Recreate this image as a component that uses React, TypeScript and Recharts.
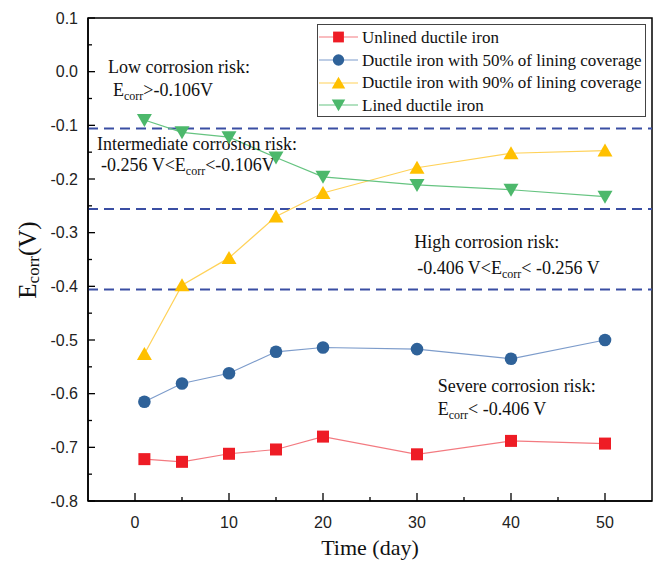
import React from 'react';
import { LineChart, Line, XAxis, YAxis, ReferenceLine, ReferenceArea, ReferenceDot, Legend } from 'recharts';

const times = [1, 5, 10, 15, 20, 30, 40, 50];
const unlined = [-0.722, -0.727, -0.712, -0.704, -0.68, -0.713, -0.688, -0.693];
const cov50 = [-0.615, -0.581, -0.562, -0.522, -0.514, -0.517, -0.535, -0.5];
const cov90 = [-0.526, -0.398, -0.347, -0.27, -0.226, -0.179, -0.152, -0.147];
const lined = [-0.09, -0.113, -0.122, -0.16, -0.196, -0.211, -0.22, -0.233];

const seriesNames = [
  'Unlined ductile iron',
  'Ductile iron with 50% of lining coverage',
  'Ductile iron with 90% of lining coverage',
  'Lined ductile iron',
];
const xTicks = [0, 5, 10, 15, 20, 25, 30, 35, 40, 45, 50];
const xLabelTicks = [0, 10, 20, 30, 40, 50];
const yTicks = [-0.8, -0.75, -0.7, -0.65, -0.6, -0.55, -0.5, -0.45, -0.4, -0.35, -0.3, -0.25, -0.2, -0.15, -0.1, -0.05, 0, 0.05, 0.1];
const yLabelTicks = [-0.8, -0.7, -0.6, -0.5, -0.4, -0.3, -0.2, -0.1, 0, 0.1];
const thresholds = [-0.106, -0.256, -0.406];

const data = times.map((t, i) => ({
  time: t,
  unlined: unlined[i],
  cov50: cov50[i],
  cov90: cov90[i],
  lined: lined[i],
}));

const SERIF = '"Liberation Serif", "Times New Roman", serif';
const SANS = '"Liberation Sans", Arial, sans-serif';

const styles = [
  { key: 'unlined', marker: 'square', fill: '#ee1c25', line: '#f37a80' },
  { key: 'cov50', marker: 'circle', fill: '#2f6299', line: '#7d9ccb' },
  { key: 'cov90', marker: 'up', fill: '#ffc000', line: '#ffd259' },
  { key: 'lined', marker: 'down', fill: '#4cb86b', line: '#66c481' },
];

function Marker({ type, cx, cy, fill }: any) {
  if (type === 'square') return <rect x={cx - 6} y={cy - 6} width={12} height={12} fill={fill} />;
  if (type === 'circle') return <circle cx={cx} cy={cy} r={6.3} fill={fill} />;
  if (type === 'up')
    return <polygon points={`${cx},${cy - 7} ${cx - 7.5},${cy + 6} ${cx + 7.5},${cy + 6}`} fill={fill} />;
  return <polygon points={`${cx},${cy + 7} ${cx - 7.5},${cy - 6} ${cx + 7.5},${cy - 6}`} fill={fill} />;
}

const makeDot = (type: string, fill: string) => (props: any) => {
  const { cx, cy, index } = props;
  if (cx == null || cy == null) return <g key={index} />;
  return <g key={index}><Marker type={type} cx={cx} cy={cy} fill={fill} /></g>;
};

const Y_MARGIN = 10;
const X_MARGIN = 12;

const YTick = (props: any) => {
  const { x, y, payload } = props;
  const v = payload.value;
  const major = yLabelTicks.some((t) => Math.abs(t - v) < 1e-9);
  const ax = x + Y_MARGIN;
  return (
    <g>
      <line x1={ax} x2={ax + (major ? 7 : 4)} y1={y} y2={y} stroke="#000" strokeWidth={1.3} />
      {major && (
        <text x={x} y={y} dy="0.36em" textAnchor="end" fontFamily={SANS} fontSize={16} fill="#222">
          {v.toFixed(1)}
        </text>
      )}
    </g>
  );
};

const XTick = (props: any) => {
  const { x, y, payload } = props;
  const v = payload.value;
  const major = xLabelTicks.includes(v);
  const ay = y - X_MARGIN;
  return (
    <g>
      <line x1={x} x2={x} y1={ay} y2={ay - (major ? 8 : 4)} stroke="#000" strokeWidth={1.3} />
      {major && (
        <text x={x} y={y} dy="0.95em" textAnchor="middle" fontFamily={SANS} fontSize={16} fill="#222">
          {String(v)}
        </text>
      )}
    </g>
  );
};

type Seg = { t: string; sub?: boolean };

const annotations: { x: number; y: number; lines: { dx: number; dy: number; segs: Seg[] }[] }[] = [
  {
    x: -2.87,
    y: -0.0025,
    lines: [
      { dx: 0, dy: 0, segs: [{ t: 'Low corrosion risk:' }] },
      { dx: 5, dy: 23, segs: [{ t: 'E' }, { t: 'corr', sub: true }, { t: '>-0.106V' }] },
    ],
  },
  {
    x: -4.04,
    y: -0.146,
    lines: [
      { dx: 0, dy: 0, segs: [{ t: 'Intermediate corrosion risk:' }] },
      { dx: 4, dy: 21, segs: [{ t: '-0.256 V<E' }, { t: 'corr', sub: true }, { t: '<-0.106V' }] },
    ],
  },
  {
    x: 29.7,
    y: -0.3285,
    lines: [
      { dx: 0, dy: 0, segs: [{ t: 'High corrosion risk:' }] },
      { dx: 3, dy: 26, segs: [{ t: '-0.406 V<E' }, { t: 'corr', sub: true }, { t: '< -0.256 V' }] },
    ],
  },
  {
    x: 32.2,
    y: -0.597,
    lines: [
      { dx: 0, dy: 0, segs: [{ t: 'Severe corrosion risk:' }] },
      { dx: 0, dy: 23, segs: [{ t: 'E' }, { t: 'corr', sub: true }, { t: '< -0.406 V' }] },
    ],
  },
];

function renderSegs(segs: Seg[], size: number, subSize: number, shift: number) {
  const out: any[] = [];
  let down = false;
  segs.forEach((s, i) => {
    if (s.sub) {
      out.push(
        <tspan key={i} fontSize={subSize} dy={shift}>
          {s.t}
        </tspan>
      );
      down = true;
    } else {
      out.push(
        <tspan key={i} fontSize={size} dy={down ? -shift : 0}>
          {s.t}
        </tspan>
      );
      down = false;
    }
  });
  return out;
}

const annContent = (lines: { dx: number; dy: number; segs: Seg[] }[]) => (props: any) => {
  const vb = props.viewBox || {};
  const x0 = vb.x + (vb.width || 0) / 2;
  const y0 = vb.y + (vb.height || 0) / 2;
  return (
    <g>
      {lines.map((ln, i) => (
        <text key={i} x={x0 + ln.dx} y={y0 + ln.dy} fontFamily={SERIF} fontSize={18} fill="#111">
          {renderSegs(ln.segs, 18, 12, 4)}
        </text>
      ))}
    </g>
  );
};

const renderLegend = () => (
  <div
    style={{
      border: '1px solid #444',
      background: '#fff',
      width: 329,
      height: 93,
      boxSizing: 'border-box',
      paddingTop: 1,
      fontFamily: SERIF,
      fontSize: 17,
      color: '#111',
      lineHeight: 1,
    }}
  >
    {styles.map((s, i) => (
      <div key={s.key} style={{ display: 'flex', alignItems: 'center', height: 22.7, whiteSpace: 'nowrap' }}>
        <svg width={44} height={22} style={{ display: 'block', flex: 'none' }}>
          <line x1={1} x2={40} y1={11} y2={11} stroke={s.line} strokeWidth={1.2} />
          <g transform="translate(20.5,11) scale(0.9) translate(-20.5,-11)">
            <Marker type={s.marker} cx={20.5} cy={11} fill={s.fill} />
          </g>
        </svg>
        <span>{seriesNames[i]}</span>
      </div>
    ))}
  </div>
);

const yLabel = (props: any) => {
  const cx = 27;
  const cy = 260;
  return (
    <text
      x={cx}
      y={cy}
      transform={`rotate(-90 ${cx} ${cy})`}
      textAnchor="middle"
      dominantBaseline="central"
      fontFamily={SERIF}
      fill="#111"
    >
      <tspan fontSize={25}>E</tspan>
      <tspan fontSize={17} dy={6}>corr</tspan>
      <tspan fontSize={25} dy={-6}>(V)</tspan>
    </text>
  );
};

const xLabel = (props: any) => {
  const vb = props.viewBox || {};
  const cx = vb.x + vb.width / 2;
  return (
    <text x={cx} y={555} textAnchor="middle" fontFamily={SERIF} fontSize={22} fill="#111">
      Time (day)
    </text>
  );
};

export default function App() {
  return (
    <div style={{ position: 'absolute', left: 0, top: 0, width: 660, height: 565, background: '#fff' }}>
      <LineChart width={660} height={565} data={data} margin={{ top: 18, right: 8, bottom: 24, left: 28 }}>
        <XAxis
          dataKey="time"
          type="number"
          domain={[-5, 55]}
          ticks={xTicks}
          interval={0}
          tickSize={0}
          tickMargin={X_MARGIN}
          tick={<XTick />}
          tickLine={false}
          axisLine={{ stroke: '#000', strokeWidth: 1.5 }}
          height={40}
          allowDataOverflow
          label={{ content: xLabel }}
        />
        <YAxis
          type="number"
          domain={[-0.8, 0.1]}
          ticks={yTicks}
          interval={0}
          tickSize={0}
          tickMargin={Y_MARGIN}
          tick={<YTick />}
          tickLine={false}
          axisLine={{ stroke: '#000', strokeWidth: 1.5 }}
          width={60}
          allowDataOverflow
          label={{ content: yLabel }}
        />
        <ReferenceArea x1={-5} x2={55} y1={-0.8} y2={0.1} fill="none" stroke="#000" strokeWidth={1.5} ifOverflow="visible" />
        {thresholds.map((t) => (
          <ReferenceLine key={t} y={t} stroke="#3a4ea3" strokeWidth={2} strokeDasharray="10 6" />
        ))}
        {styles.map((s) => (
          <Line
            key={s.key}
            dataKey={s.key}
            type="linear"
            stroke={s.line}
            strokeWidth={1.2}
            dot={makeDot(s.marker, s.fill)}
            activeDot={false}
            isAnimationActive={false}
          />
        ))}
        {annotations.map((a, i) => (
          <ReferenceDot key={i} x={a.x} y={a.y} r={0} stroke="none" fill="none" label={{ content: annContent(a.lines) }} />
        ))}
        <Legend
          layout="horizontal"
          verticalAlign="middle"
          align="center"
          content={renderLegend}
          wrapperStyle={{ left: 317, top: 24, width: 329, height: 93 }}
        />
      </LineChart>
    </div>
  );
}
